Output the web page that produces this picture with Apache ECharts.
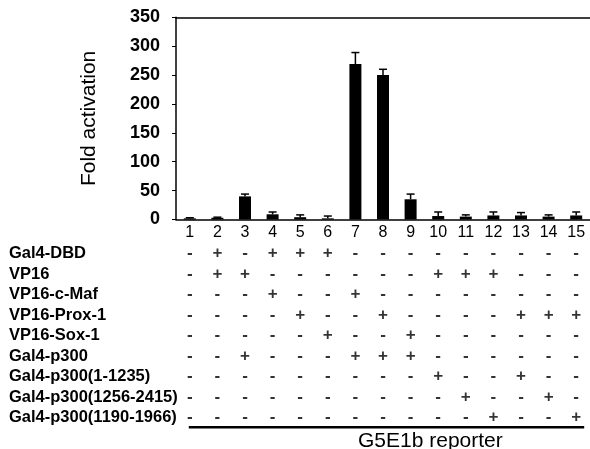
<!DOCTYPE html>
<html>
<head>
<meta charset="utf-8">
<script src="https://cdn.jsdelivr.net/npm/echarts@6/dist/echarts.min.js"></script>
<style>
html,body{margin:0;padding:0;background:#fff;}
#chart{width:590px;height:449px;}
</style>
</head>
<body>
<div id="chart"></div>
<script>
var lanes = ['1','2','3','4','5','6','7','8','9','10','11','12','13','14','15'];
var foldActivation = [2, 3, 40, 9, 4, 2, 269, 250, 35, 6, 5, 7, 7, 5, 7];
var errorSD = [1, 1, 4, 4, 4, 4, 20, 10, 9, 7, 3, 6, 5, 3, 6];
var yTicks = [0, 50, 100, 150, 200, 250, 300, 350];
var rowLabels = ['Gal4-DBD','VP16','VP16-c-Maf','VP16-Prox-1','VP16-Sox-1','Gal4-p300','Gal4-p300(1-1235)','Gal4-p300(1256-2415)','Gal4-p300(1190-1966)'];
var rowGal4DBD   = ['-','+','-','+','+','+','-','-','-','-','-','-','-','-','-'];
var rowVP16      = ['-','+','+','-','-','-','-','-','-','+','+','+','-','-','-'];
var rowVP16cMaf  = ['-','-','-','+','-','-','+','-','-','-','-','-','-','-','-'];
var rowVP16Prox1 = ['-','-','-','-','+','-','-','+','-','-','-','-','+','+','+'];
var rowVP16Sox1  = ['-','-','-','-','-','+','-','-','+','-','-','-','-','-','-'];
var rowGal4p300  = ['-','-','+','-','-','-','+','+','+','-','-','-','-','-','-'];
var rowP300a     = ['-','-','-','-','-','-','-','-','-','+','-','-','+','-','-'];
var rowP300b     = ['-','-','-','-','-','-','-','-','-','-','+','-','-','+','-'];
var rowP300c     = ['-','-','-','-','-','-','-','-','-','-','-','+','-','-','+'];
var reporterName = 'G5E1b reporter';

var tableRows = [rowGal4DBD,rowVP16,rowVP16cMaf,rowVP16Prox1,rowVP16Sox1,rowGal4p300,rowP300a,rowP300b,rowP300c];
var signData = [];
tableRows.forEach(function(row, i){
  row.forEach(function(s, j){ signData.push([lanes[j], rowLabels[i], s]); });
});
var errData = foldActivation.map(function(v, i){ return [lanes[i], v, v + errorSD[i]]; });

var FONT = 'Liberation Sans, Arial, sans-serif';
var chart = echarts.init(document.getElementById('chart'), null, {renderer:'canvas'});
var option = {
  backgroundColor: '#fff',
  animation: false,
  title: {
    text: reporterName, left: 353, top: 426,
    textStyle: {fontFamily: FONT, fontSize: 21, fontWeight: 'normal', color: '#000'}
  },
  grid: [
    {left: 176, top: 17.3, width: 418.5, height: 202.2},
    {left: 176, top: 243.5, width: 418.5, height: 184.5}
  ],
  xAxis: [
    {type: 'category', gridIndex: 0, data: lanes, position: 'bottom',
     axisLine: {lineStyle: {color: '#000', width: 1.5}},
     axisTick: {show: false},
     axisLabel: {fontFamily: FONT, fontSize: 16, color: '#000', margin: 5, interval: 0}},
    {type: 'category', gridIndex: 1, data: lanes, show: false},
    {type: 'category', gridIndex: 0, data: lanes, position: 'top',
     axisLine: {lineStyle: {color: '#000', width: 1.5}},
     axisTick: {show: false}, axisLabel: {show: false}}
  ],
  yAxis: [
    {type: 'value', gridIndex: 0, min: 0, max: 350, interval: 50,
     name: 'Fold activation', nameLocation: 'middle', nameGap: 76,
     nameTextStyle: {fontFamily: FONT, fontSize: 21, color: '#000'},
     axisLine: {show: true, lineStyle: {color: '#000', width: 1.5}},
     axisTick: {show: true, length: 4, lineStyle: {color: '#000'}},
     splitLine: {show: false},
     axisLabel: {fontFamily: FONT, fontSize: 18, fontWeight: 'bold', color: '#000', margin: 16,
       formatter: function(v){ return yTicks.indexOf(v) >= 0 ? String(v) : ''; }}},
    {type: 'category', gridIndex: 1, data: rowLabels, inverse: true,
     axisLine: {show: false}, axisTick: {show: false}, splitLine: {show: false},
     axisLabel: {fontFamily: FONT, fontSize: 16.5, fontWeight: 'bold', color: '#000', align: 'left', margin: 167, interval: 0}}
  ],
  series: [
    {type: 'bar', xAxisIndex: 0, yAxisIndex: 0, data: foldActivation, barWidth: 12,
     itemStyle: {color: '#000'}},
    {type: 'custom', xAxisIndex: 0, yAxisIndex: 0, data: errData, z: 3,
     renderItem: function(params, api){
       var top = api.coord([api.value(0), api.value(2)]);
       var base = api.coord([api.value(0), api.value(1)]);
       var hw = 4;
       return {type: 'group', children: [
         {type: 'line', shape: {x1: top[0], y1: top[1], x2: base[0], y2: base[1]}, style: {stroke: '#000', lineWidth: 1.5}},
         {type: 'line', shape: {x1: top[0]-hw, y1: top[1], x2: top[0]+hw, y2: top[1]}, style: {stroke: '#000', lineWidth: 1.5}}
       ]};
     }},
    {type: 'scatter', xAxisIndex: 1, yAxisIndex: 1, data: signData, symbolSize: 0,
     label: {show: true, position: 'inside', formatter: function(p){ return p.value[2]; },
       fontFamily: FONT, fontSize: 17, fontWeight: 'bold', color: '#000'}}
  ]
};
chart.setOption(option);
var p1 = chart.convertToPixel({xAxisIndex: 1, yAxisIndex: 1}, [lanes[0], rowLabels[rowLabels.length-1]]);
var p2 = chart.convertToPixel({xAxisIndex: 1, yAxisIndex: 1}, [lanes[lanes.length-1], rowLabels[rowLabels.length-1]]);
chart.setOption({graphic: [{type: 'line', shape: {x1: p1[0]-1, y1: p1[1]+9.5, x2: p2[0]+8, y2: p2[1]+9.5},
  style: {stroke: '#000', lineWidth: 2.5}}]});
</script>
</body>
</html>
